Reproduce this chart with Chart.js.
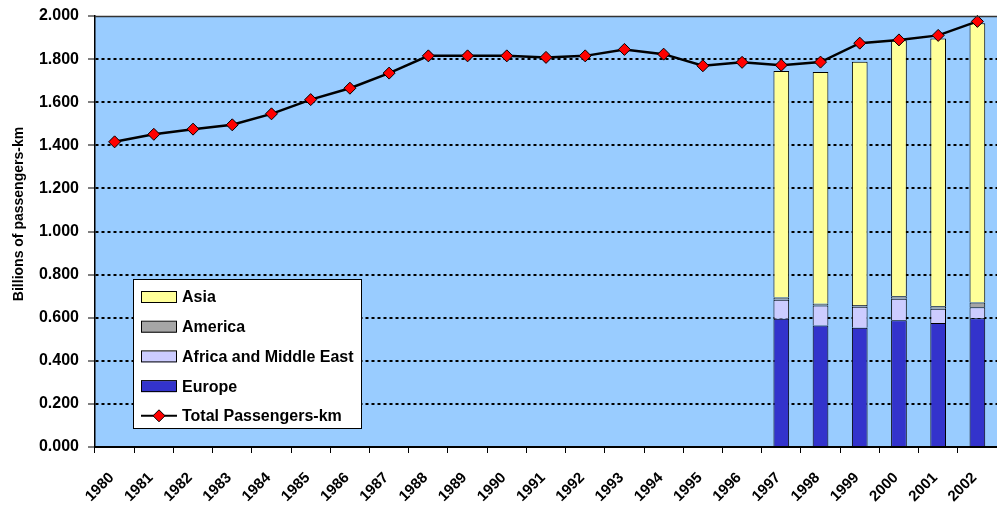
<!DOCTYPE html>
<html>
<head>
<meta charset="utf-8">
<script src="https://cdn.jsdelivr.net/npm/chart.js@4/dist/chart.umd.min.js"></script>
<style>
html,body{margin:0;padding:0;background:#fff;}
#wrap{width:997px;height:508px;}
</style>
</head>
<body>
<div id="wrap"><canvas id="c" width="997" height="508"></canvas></div>
<script>
const years = ["1980","1981","1982","1983","1984","1985","1986","1987","1988","1989","1990","1991","1992","1993","1994","1995","1996","1997","1998","1999","2000","2001","2002"];
const totalPkm = [1.416,1.451,1.475,1.495,1.546,1.612,1.665,1.735,1.815,1.815,1.815,1.808,1.815,1.845,1.823,1.769,1.785,1.772,1.786,1.874,1.889,1.910,1.975];
const europe  = [null,null,null,null,null,null,null,null,null,null,null,null,null,null,null,null,null,0.595,0.564,0.553,0.588,0.575,0.598];
const africaME= [null,null,null,null,null,null,null,null,null,null,null,null,null,null,null,null,null,0.088,0.093,0.098,0.100,0.067,0.051];
const america = [null,null,null,null,null,null,null,null,null,null,null,null,null,null,null,null,null,0.011,0.008,0.008,0.011,0.011,0.021];
const asia    = [null,null,null,null,null,null,null,null,null,null,null,null,null,null,null,null,null,1.051,1.075,1.129,1.188,1.243,1.296];
const yTicks = [0,0.2,0.4,0.6,0.8,1.0,1.2,1.4,1.6,1.8,2.0];
const yTitle = 'Billions of passengers-km';

const FONT = "'Liberation Sans', Arial, sans-serif";

const bgPlugin = {
  id: 'bg',
  beforeDraw(chart) {
    const {ctx, chartArea: a} = chart;
    ctx.save();
    ctx.fillStyle = '#99CCFF';
    ctx.fillRect(a.left, a.top, a.right - a.left, a.bottom - a.top);
    ctx.restore();
  },
  afterDatasetsDraw(chart) {
    const {ctx, chartArea: a} = chart;
    ctx.save();
    ctx.strokeStyle = '#333';
    ctx.lineWidth = 1.5;
    ctx.beginPath();
    ctx.moveTo(a.left, a.top + 0.5);
    ctx.lineTo(a.right, a.top + 0.5);
    ctx.stroke();
    ctx.restore();
  },
  afterDraw(chart) {
    const ctx = chart.ctx;
    ctx.save();
    ctx.translate(19, 214);
    ctx.rotate(-Math.PI / 2);
    ctx.font = 'bold 14px ' + FONT;
    ctx.fillStyle = '#000';
    ctx.textAlign = 'center';
    ctx.textBaseline = 'middle';
    ctx.fillText(yTitle, 0, 0);
    ctx.restore();
  }
};

const legendPlugin = {
  id: 'boxLegend',
  afterDraw(chart) {
    const ctx = chart.ctx;
    const x0 = 133, y0 = 279, w = 228, h = 149;
    ctx.save();
    ctx.fillStyle = '#fff';
    ctx.fillRect(x0, y0, w, h);
    ctx.strokeStyle = '#000';
    ctx.lineWidth = 1;
    ctx.strokeRect(x0 + 0.5, y0 + 0.5, w, h);
    const ds = chart.data.datasets;
    const order = [3, 2, 1, 0, 4];
    ctx.font = 'bold 16px ' + FONT;
    ctx.textBaseline = 'middle';
    ctx.textAlign = 'left';
    order.forEach((di, i) => {
      const d = ds[di];
      const cy = y0 + 18 + i * 29.7;
      if (d.type === 'line') {
        ctx.strokeStyle = '#000';
        ctx.lineWidth = 2;
        ctx.beginPath();
        ctx.moveTo(141, cy);
        ctx.lineTo(177, cy);
        ctx.stroke();
        ctx.beginPath();
        const cx = 159, r = 6;
        ctx.moveTo(cx, cy - r); ctx.lineTo(cx + r, cy); ctx.lineTo(cx, cy + r); ctx.lineTo(cx - r, cy); ctx.closePath();
        ctx.fillStyle = '#FF0000';
        ctx.fill();
        ctx.lineWidth = 1;
        ctx.stroke();
      } else {
        ctx.fillStyle = d.backgroundColor;
        ctx.fillRect(141, cy - 5, 35, 11);
        ctx.strokeStyle = '#000';
        ctx.lineWidth = 1;
        ctx.strokeRect(141.5, cy - 5.5, 35, 11);
      }
      ctx.fillStyle = '#000';
      ctx.fillText(d.label, 182, cy + 1);
    });
    ctx.restore();
  }
};

const barCommon = {type: 'bar', borderColor: '#000', borderWidth: 1, barPercentage: 0.4, categoryPercentage: 1.0, order: 1, stack: 's'};

new Chart(document.getElementById('c'), {
  data: {
    labels: years,
    datasets: [
      Object.assign({label: 'Europe', data: europe, backgroundColor: '#3333CC'}, barCommon),
      Object.assign({label: 'Africa and Middle East', data: africaME, backgroundColor: '#CCCCFF'}, barCommon),
      Object.assign({label: 'America', data: america, backgroundColor: '#A6A6A6'}, barCommon),
      Object.assign({label: 'Asia', data: asia, backgroundColor: '#FFFF99'}, barCommon),
      {type: 'line', label: 'Total Passengers-km', data: totalPkm, borderColor: '#000', borderWidth: 2.5,
       pointStyle: 'rectRot', pointRadius: 6, pointBackgroundColor: '#FF0000', pointBorderColor: '#000',
       pointBorderWidth: 1, tension: 0, order: 0, fill: false, clip: false}
    ]
  },
  options: {
    responsive: false,
    devicePixelRatio: 1,
    animation: false,
    layout: {autoPadding: false, padding: {top: 16, right: 0, left: 0, bottom: 0}},
    plugins: {legend: {display: false}, tooltip: {enabled: false}, title: {display: false}},
    scales: {
      x: {
        stacked: true,
        offset: true,
        grid: {display: true, drawOnChartArea: false, drawTicks: true, tickLength: 6, color: '#000', offset: true, tickWidth: 1},
        border: {display: true, color: '#000', width: 2},
        ticks: {font: {family: FONT, size: 15, weight: 'bold'}, color: '#000', minRotation: 45, maxRotation: 45, autoSkip: false, padding: 16, labelOffset: -3},
        afterFit(s) { s.height = 61; s.paddingRight = 0; }
      },
      y: {
        stacked: true,
        min: 0, max: 2,
        afterBuildTicks(s) { s.ticks = yTicks.map(v => ({value: v})); },
        grid: {
          color: (c) => (c.tick && (c.tick.value === 0 || c.tick.value === 2)) ? 'rgba(0,0,0,0)' : '#000',
          lineWidth: 2, tickColor: '#000', tickLength: 7, tickWidth: 1, tickBorderDash: []
        },
        border: {display: true, color: '#000', width: 1.5, dash: [3, 3]},
        ticks: {font: {family: FONT, size: 16, weight: 'bold'}, color: '#000', padding: 9,
          callback: (v) => Number(v).toFixed(3)},
        title: {display: false},
        afterFit(s) { s.width = 95; s.paddingTop = 0; }
      }
    }
  },
  plugins: [bgPlugin, legendPlugin]
});
</script>
</body>
</html>
